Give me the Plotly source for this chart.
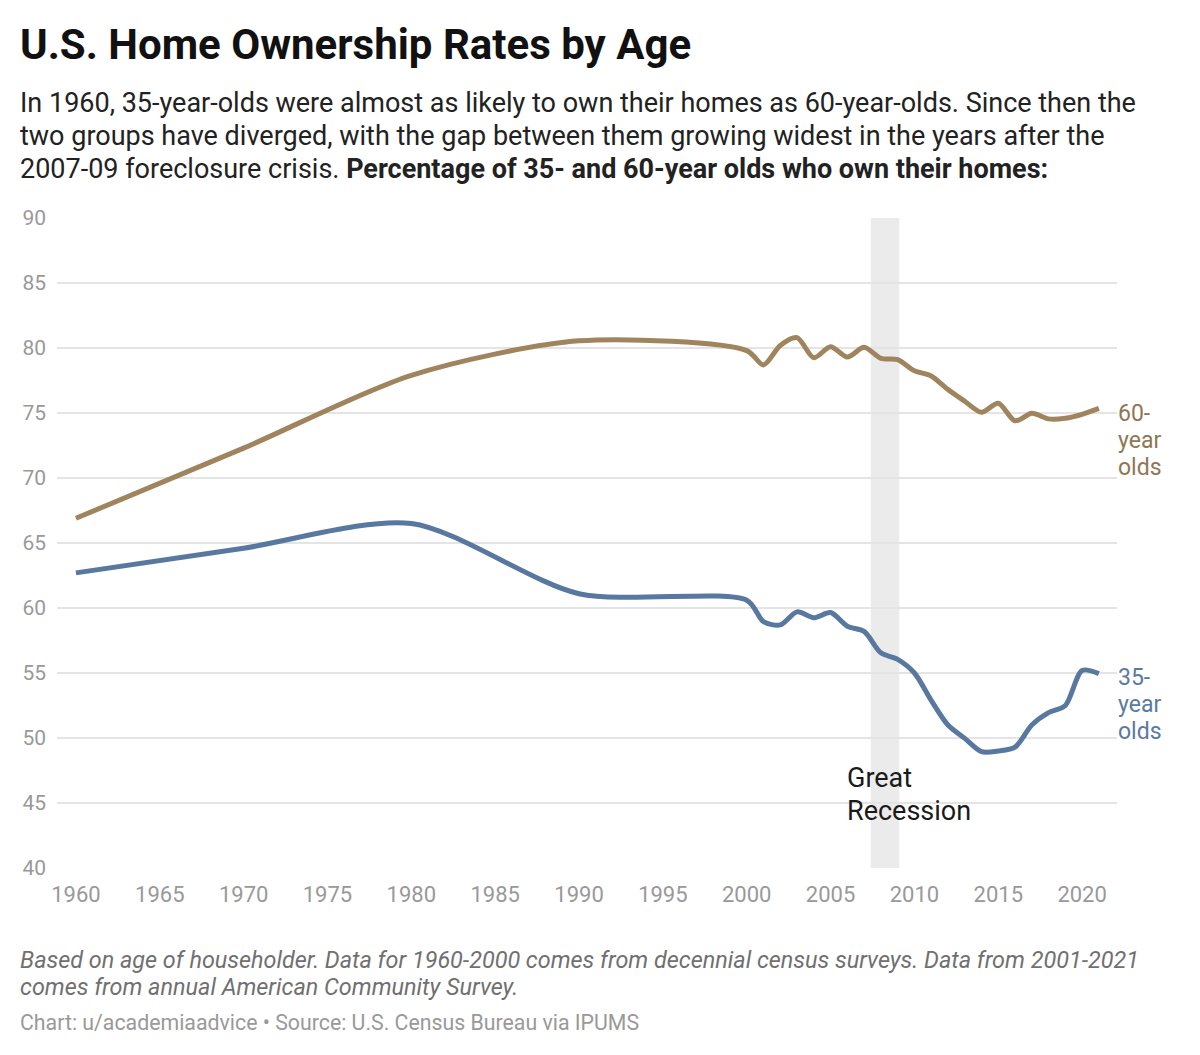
import plotly.graph_objects as go

# years: decennial census 1960-2000, then annual ACS 2001-2021
years = [1960, 1970, 1980, 1990, 2000] + list(range(2001, 2022))

age_60 = [66.9, 72.3, 77.9, 80.55, 79.8,
          78.7, 80.2, 80.8, 79.25, 80.1, 79.3, 80.05, 79.2, 79.1, 78.25,
          77.85, 76.8, 75.9, 75.05, 75.75, 74.4, 74.98, 74.55, 74.6, 74.9, 75.35]

age_35 = [62.7, 64.6, 66.5, 61.1, 60.6,
          58.95, 58.7, 59.7, 59.25, 59.65, 58.6, 58.2, 56.55, 56.05, 55.0,
          52.9, 51.0, 49.97, 48.95, 49.0, 49.3, 51.0, 51.95, 52.5, 55.2, 54.95]

recession = [2007.4, 2009.1]
x_ticks = list(range(1960, 2021, 5))
y_ticks = list(range(40, 91, 5))

TAN = "#9f845e"
BLUE = "#5878a0"
FONT = "Roboto"

fig = go.Figure()

fig.add_shape(type="rect", xref="x", yref="y",
              x0=recession[0], x1=recession[1], y0=40, y1=90,
              fillcolor="#ebebeb", line_width=0, layer="below")

fig.add_trace(go.Scatter(x=years, y=age_60, mode="lines", name="60-year olds",
                         line=dict(color=TAN, width=5, shape="spline", smoothing=0.8)))
fig.add_trace(go.Scatter(x=years, y=age_35, mode="lines", name="35-year olds",
                         line=dict(color=BLUE, width=5, shape="spline", smoothing=0.8)))


def stack(lines, step, shift=0, **kw):
    # one annotation per line so the line spacing can be set
    for i, t in enumerate(lines):
        fig.add_annotation(text=t, showarrow=False, xanchor="left", yanchor="middle",
                           yshift=shift - step * i, **kw)


# end labels
stack(["60-", "year", "olds"], 27, shift=-5, x=1, xref="paper", xshift=-1, y=age_60[-1], yref="y",
      font=dict(family=FONT, size=23, color="#8f7654"))
stack(["35-", "year", "olds"], 27, shift=-4, x=1, xref="paper", xshift=-1, y=age_35[-1], yref="y",
      font=dict(family=FONT, size=23, color="#5a7aa0"))

stack(["Great", "Recession"], 33, x=2005.85, xref="x", y=46.9, yref="y",
      font=dict(family=FONT, size=27, color="#1a1a1a"))


# title + subtitle (pixel -> paper: (868 - px) / 650)
def py(px):
    return (868 - px) / 650


LEFT = -39 / 1060

fig.add_annotation(x=LEFT, xref="paper", y=py(45), yref="paper",
                   xanchor="left", yanchor="middle", showarrow=False,
                   text="<b>U.S. Home Ownership Rates by Age</b>",
                   font=dict(family=FONT, size=42, color="#111111"))

sub_lines = [
    "In 1960, 35-year-olds were almost as likely to own their homes as 60-year-olds. Since then the",
    "two groups have diverged, with the gap between them growing widest in the years after the",
    "2007-09 foreclosure crisis. <b>Percentage of 35- and 60-year olds who own their homes:</b>",
]
stack(sub_lines, 33, x=LEFT, xref="paper", y=py(103), yref="paper",
      font=dict(family=FONT, size=27, color="#222222"))

notes = [
    "<i>Based on age of householder. Data for 1960-2000 comes from decennial census surveys. Data from 2001-2021</i>",
    "<i>comes from annual American Community Survey.</i>",
]
stack(notes, 27, x=LEFT, xref="paper", y=py(960), yref="paper",
      font=dict(family=FONT, size=23.4, color="#707070"))

fig.add_annotation(x=LEFT, xref="paper", y=py(1022), yref="paper",
                   xanchor="left", yanchor="middle", showarrow=False,
                   text="Chart: u/academiaadvice • Source: U.S. Census Bureau via IPUMS",
                   font=dict(family=FONT, size=21.3, color="#999999"))

fig.update_xaxes(range=[1958.87, 2022.08], tickvals=x_ticks, showgrid=False, zeroline=False,
                 showline=False, ticks="", ticklabelstandoff=11,
                 tickfont=dict(family=FONT, size=22, color="#999999"))
fig.update_yaxes(range=[40, 90], tickvals=y_ticks, showgrid=True, gridcolor="#e4e4e4",
                 gridwidth=1.5, zeroline=False, showline=False, ticks="", ticklabelstandoff=10,
                 tickfont=dict(family=FONT, size=21, color="#999999"))

fig.update_layout(width=1200, height=1055, showlegend=False,
                  plot_bgcolor="white", paper_bgcolor="white",
                  margin=dict(l=57, r=83, t=218, b=187),
                  font=dict(family=FONT))

fig.write_html("out.html", config={"displayModeBar": False},
               post_script="document.body.style.margin='0';")
